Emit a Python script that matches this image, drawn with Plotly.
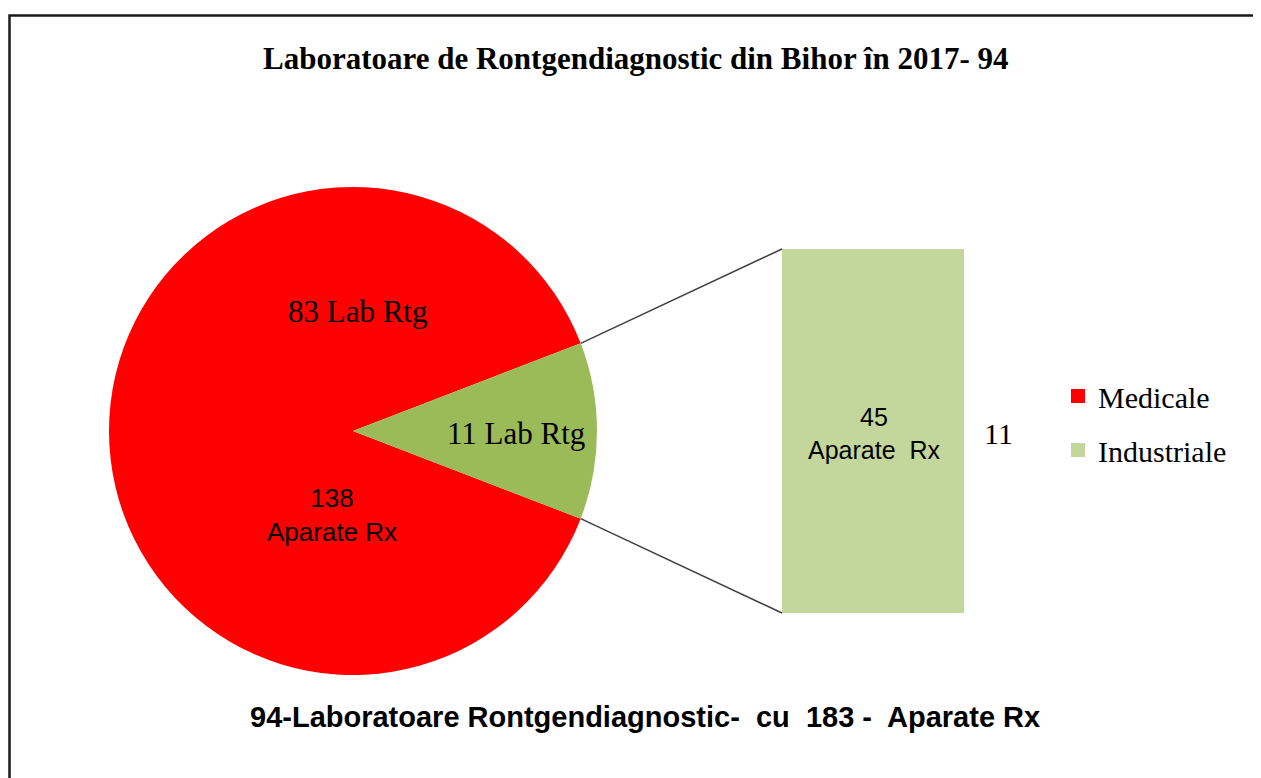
import math
import plotly.graph_objects as go

# ---- data ----
categories = ["Medicale", "Industriale"]
labs = [83, 11]            # laboratories per category
devices = [138, 45]        # Rx devices per category
total_labs = 94
total_devices = 183
title_text = "Laboratoare de Rontgendiagnostic din Bihor în 2017- 94"

pie_colors = ["#FF0000", "#9BBB59"]
bar_color = "#C3D69B"

# page body has an 8px margin, so the figure starts at (8, 8) of the window
OFF = 8
W, H = 1261 - OFF, 778 - OFF

def px(x):
    return (x - OFF) / W

def py(y):
    return 1 - (y - OFF) / H

# layout geometry (window pixels)
pie_l, pie_r, pie_t, pie_b = 108, 598, 187, 675
bar_l, bar_r, bar_t, bar_b = 782, 964, 249, 613

cx = (pie_l + pie_r) / 2
cy = (pie_t + pie_b) / 2
rad = min(pie_r - pie_l, pie_b - pie_t) / 2

half = math.pi * labs[1] / sum(labs)  # half angle of the exploded slice
rot = 90 + math.degrees(half)

fig = go.Figure()

fig.add_trace(go.Pie(
    labels=categories, values=labs, sort=False, direction="counterclockwise",
    rotation=rot, marker=dict(colors=pie_colors, line=dict(width=0)),
    textinfo="none", hoverinfo="label+value", showlegend=False,
    domain=dict(x=[px(pie_l), px(pie_r)], y=[py(pie_b), py(pie_t)]),
))

fig.add_trace(go.Bar(
    x=[0], y=[labs[1]], width=1, marker=dict(color=bar_color, line=dict(width=0)),
    showlegend=False, hoverinfo="y", xaxis="x", yaxis="y",
))

# legend entries
for name, col in zip(categories, [pie_colors[0], bar_color]):
    fig.add_trace(go.Scatter(
        x=[None], y=[None], mode="markers", name=name, legendgroup=name,
        marker=dict(symbol="square", size=14, color=col),
        xaxis="x", yaxis="y",
    ))

# connector lines computed from slice geometry
ux = cx + rad * math.cos(half)
uy = cy - rad * math.sin(half)
ly = cy + rad * math.sin(half)
shapes = [
    dict(type="line", xref="paper", yref="paper", x0=px(ux), y0=py(uy),
         x1=px(bar_l), y1=py(bar_t), line=dict(color="#404040", width=1.5)),
    dict(type="line", xref="paper", yref="paper", x0=px(ux), y0=py(ly),
         x1=px(bar_l), y1=py(bar_b), line=dict(color="#404040", width=1.5)),
    dict(type="rect", xref="paper", yref="paper", x0=px(9.5), y0=-0.1,
         x1=1.1, y1=py(15.5), line=dict(color="#1a1a1a", width=2.5)),
]

serif = "Liberation Serif, Times New Roman, serif"
sans = "Liberation Sans, Arial, sans-serif"

def ann(text, x, y, family, size):
    return dict(text=text, x=px(x), y=py(y), xref="paper", yref="paper",
                xanchor="center", yanchor="middle", showarrow=False,
                font=dict(family=family, size=size, color="black"))

annotations = [
    ann(f"<b>{title_text}</b>", 636, 58, serif, 31),
    ann(f"{labs[0]} Lab Rtg", 358, 311, serif, 31),
    ann(f"{labs[1]} Lab Rtg", 516, 433, serif, 31),
    ann(f"{devices[0]}<br>Aparate Rx", 332, 515, sans, 26),
    ann(f"{devices[1]}<br>Aparate  Rx", 874, 433, sans, 25),
    ann(f"{labs[1]}", 998, 433, serif, 30),
    ann(f"<b>{total_labs}-Laboratoare Rontgendiagnostic-  cu  {total_devices} -  Aparate Rx</b>",
        645, 717, sans, 29),
]

fig.update_layout(
    width=W, height=H,
    margin=dict(l=0, r=0, t=0, b=0),
    paper_bgcolor="white", plot_bgcolor="white",
    xaxis=dict(domain=[px(bar_l), px(bar_r)], range=[-0.5, 0.5], visible=False, fixedrange=True),
    yaxis=dict(domain=[py(bar_b), py(bar_t)], range=[0, labs[1]], visible=False, fixedrange=True),
    bargap=0,
    showlegend=True,
    legend=dict(x=px(1058), y=py(370), xanchor="left", yanchor="top",
                font=dict(family=serif, size=30, color="black"),
                traceorder="grouped", tracegroupgap=12, bgcolor="rgba(0,0,0,0)",
                itemclick=False, itemdoubleclick=False),
    shapes=shapes,
    annotations=annotations,
)

fig.write_html("out.html")
